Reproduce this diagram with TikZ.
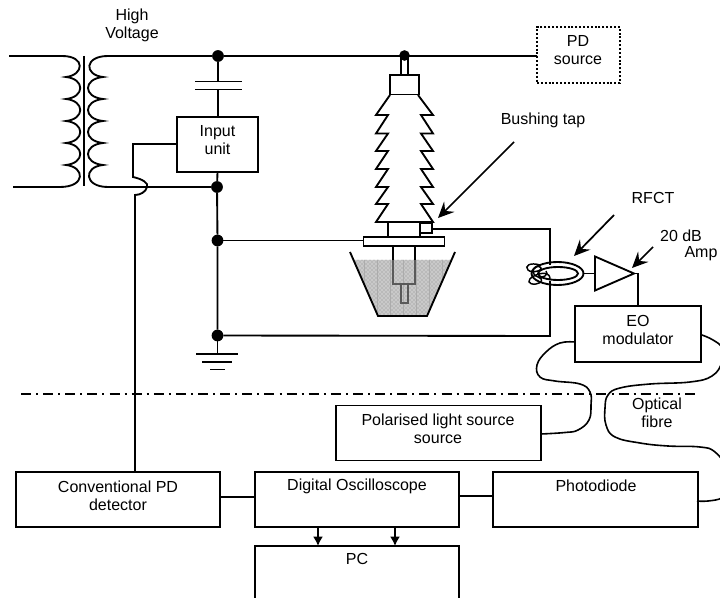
\documentclass[tikz,border=0pt]{standalone}
\usepackage{fontspec}
\setmainfont{Liberation Sans}
\usetikzlibrary{arrows.meta,patterns}
\tikzset{
  wire/.style={line width=1.4pt,line join=miter},
  fibre/.style={line width=1.2pt},
  box/.style 2 args={draw,line width=1.4pt,rectangle,inner sep=0pt,outer sep=0pt,minimum width=#1*0.75pt,minimum height=#2*0.75pt},
  lab/.style={font=\fontsize{12}{13.5}\selectfont,align=center,inner sep=0pt,text=black},
  dot/.style={circle,fill=black,inner sep=0pt,outer sep=0pt,minimum size=8.8pt},
  barb/.style={line width=1.3pt,-{Stealth[length=12pt,width=11pt,inset=4.5pt]}},
}
\begin{document}
\begin{tikzpicture}[x=0.75pt,y=-0.75pt]
\useasboundingbox (0,0) rectangle (720,598);
\clip (0,0) rectangle (720,598);
% boxes
\node[box={81}{55}] (input) at (217.5,144.5) {};
\node[box={83}{56},line width=1.5pt,dash pattern=on 1.5pt off 1.4pt] (pd) at (578.5,55) {};
\node[box={126}{56}] (eo) at (638,334) {};
\node[box={205}{55}] (pol) at (438.5,433) {};
\node[box={204}{55}] (conv) at (118,499.5) {};
\node[box={204}{55}] (dig) at (357,499.5) {};
\node[box={205}{55}] (photo) at (595.5,499.5) {};
\node[box={204}{74}] (pc) at (357,583) {};
% labels
\node[lab] (hv) at (132,25) {High\\Voltage};
\node[lab] (tinput) at (217.5,140) {Input\\unit};
\node[lab] (tpd) at (578,50.5) {PD\\source};
\node[lab] (tbt) at (543,120) {Bushing tap};
\node[lab] (trf) at (653,198) {RFCT};
\node[lab] at (681,236) {20 dB};
\node[lab] at (701,254) {Amp};
\node[lab] (teo) at (638,329.5) {EO\\modulator};
\node[lab] (topt) at (657,412.5) {Optical\\fibre};
\node[lab] (tpol) at (438,429) {Polarised light source\\source};
\node[lab] (tconv) at (118,495.5) {Conventional PD\\detector};
\node[lab] (tdig) at (357,486) {Digital Oscilloscope};
\node[lab] (tphoto) at (596,486) {Photodiode};
\node[lab] (tpc) at (357,559) {PC};
% junction dots
\node[dot] (j1) at (218,56) {};
\node[dot,minimum size=8pt] (j2) at (404.5,55.5) {};
\node[dot] (j3) at (217,187) {};
\node[dot] (j4) at (217.5,240.5) {};
\node[dot] (j5) at (217.5,335.5) {};
% transformer
\coordinate (tl1) at (9,56);
\coordinate (tl2) at (13,187);
\draw[wire] (tl1) -- (62,56) .. controls (86,56) and (84,75) .. (66,77)
  .. controls (85,79) and (85,97) .. (66,99)
  .. controls (85,101) and (85,119) .. (66,121)
  .. controls (85,123) and (85,141) .. (66,143)
  .. controls (85,145) and (85,163) .. (66,165)
  .. controls (85,167) and (86,187) .. (60,187) -- (tl2);
\draw[wire] (83.7,56) -- (83.7,186);
\draw[wire] (pd.west |- j1) -- (j1) -- (108,56) .. controls (84,56) and (84,75) .. (103,77)
  .. controls (83,79) and (83,97) .. (103,99)
  .. controls (83,101) and (83,119) .. (103,121)
  .. controls (83,123) and (83,141) .. (103,143)
  .. controls (83,145) and (83,163) .. (103,165)
  .. controls (83,167) and (84,187) .. (108,187) -- (j3);
% capacitor
\draw[wire] (j1) -- (218,81.5);
\draw[wire] (195,81.5) -- (242,81.5);
\draw[wire] (195,89.5) -- (242,89.5);
\draw[wire] (218,89.5) -- (input.north -| 218,0);
% earth rail
\draw[wire] (input.south) -- (j3);
\draw[wire] (j3) -- (j4) -- (j5);
\coordinate (gnd) at (217.5,354);
\draw[wire] (j5) -- (gnd);
\draw[wire] (196,354) -- (238,354);
\draw[wire] (202,362) -- (232,362);
\draw[wire] (210,369.5) -- (225,369.5);
% detector lead with hop
\draw[wire,fill=none] (input.west |- 0,144) -- (133,144) -- (133,177) .. controls (142,179) and (149,183) .. (147,187) .. controls (146,192) and (140,195) .. (135,195) -- (conv.north -| 135,0);
% oil
\begin{scope}
\clip (353.5,260) -- (378,316) -- (427,316) -- (451.5,260) -- cycle;
\fill[gray!42] (340,255) rectangle (460,320);
\fill[pattern=crosshatch dots,pattern color=black!45] (340,255) rectangle (460,320);
\draw[gray!65,line width=.4pt,step=13] (340,255) grid (470,320);
\end{scope}
\draw[wire] (350,252) -- (378,316) -- (427,316) -- (455,252);
% bushing
\draw[wire] (401,56) -- (401,75);
\draw[wire] (408,56) -- (408,75);
\draw[wire] (390,75) rectangle (419,94.5);
\draw[wire] (390,95) -- (376,115) -- (388,115) -- (376,133.5) -- (388,133.5) -- (376,151) -- (388,151) -- (376,169) -- (388,169) -- (376,187) -- (388,187) -- (376,204) -- (388,204) -- (376,222) -- (433,222)
 -- (421,204) -- (433,204)-- (421,187) -- (433,187) -- (421,169) -- (433,169) -- (421,151) -- (433,151) -- (421,133.5) -- (433,133.5) -- (421,115) -- (433,115) -- (418,95);
\draw[wire] (388,222) -- (388,237);
\node[box={81}{9},fill=white] (plate) at (404,241.5) {};
\node[box={12}{10},line width=1.2pt] (tap) at (426,228) {};
\draw[wire] (420,222) -- (420,237);
\draw[wire] (393,246) -- (393,260);
\draw[wire] (415,246) -- (415,260);
\draw[line width=1.3pt,black!65] (393,260) -- (393,284) -- (415,284) -- (415,260);
\draw[line width=1.3pt,black!65] (401,284) -- (401,303) -- (408,303) -- (408,284);
\draw[wire] (j4) -- (plate.west |- j4);
% return loop
\coordinate (lt) at (550,229);
\coordinate (lb) at (550,336);
\draw[wire] (tap.east |- lt) -- (lt) -- (550,265);
\draw[wire] (550,281) -- (lb) -- (j5);
% RFCT
\draw[wire] (557.5,273.5) circle[x radius=26,y radius=11.5];
\draw[wire] (558,273.5) circle[x radius=20,y radius=6.5];
\draw[line width=1.1pt] (540,265) .. controls (530,262) and (524,266) .. (528,270) .. controls (532,274) and (545,270) .. (540,267) .. controls (534,264) and (530,272) .. (536,276) .. controls (542,280) and (550,274) .. (546,271);
\draw[line width=1.1pt] (550,279) .. controls (550,272) and (542,272) .. (534,276) .. controls (526,280) and (528,285) .. (536,284) .. controls (542,283) and (544,279) .. (538,277);
% amplifier
\coordinate (a1) at (595,256.5);
\coordinate (a2) at (595,290.5);
\coordinate (a3) at (634,273.5);
\draw[wire] (a1) -- (a3) -- (a2) -- cycle;
\draw[wire] (583.5,273.5) -- (595,273.5);
\draw[wire] (a3) -- (638,273.5) -- (eo.north);
% fibres
\coordinate (f1) at (575,342);
\coordinate (f2) at (541,434);
\draw[fibre] plot[smooth,tension=.7] coordinates {(f1) (560,343) (546,352) (537,365) (540,377) (555,381) (580,384) (590,392) (591,405) (589,420) (578,430) (565,432.5) (f2)};
\coordinate (f3) at (702,335);
\coordinate (f4) at (697,501);
\draw[fibre] plot[smooth,tension=.7] coordinates {(f3) (713,340) (722,348) (722,362) (712,376) (690,382) (650,384) (620,388) (608,395) (605,408) (606,425) (615,437) (640,443) (668,446) (700,447) (715,452) (730,470)};
\draw[fibre] plot[smooth,tension=.7] coordinates {(f4) (708,501) (722,498) (732,490)};
% dash-dot
\coordinate (d1) at (21,394);
\coordinate (d2) at (697,394);
\draw[line width=1.2pt,dash pattern=on 7.5pt off 3.8pt on 1.5pt off 3.8pt] (d1) -- (d2);
% lower connectors
\draw[wire] (conv.east |- 0,497) -- (dig.west |- 0,497);
\draw[wire] (dig.east |- 0,496) -- (photo.west |- 0,496);
\draw[wire,-{Latex[length=7pt,width=7.5pt]}] (dig.south -| 318,0) -- (pc.north -| 318,0);
\draw[wire,-{Latex[length=7pt,width=7.5pt]}] (dig.south -| 395,0) -- (pc.north -| 395,0);
% pointer arrows
\coordinate (p1) at (514,142);
\coordinate (p2) at (438,218);
\draw[barb] (p1) -- (p2);
\coordinate (p3) at (614,215);
\coordinate (p4) at (574,256);
\draw[barb] (p3) -- (p4);
\coordinate (p5) at (653,247);
\coordinate (p6) at (632,268);
\draw[barb] (p5) -- (p6);
\end{tikzpicture}
\end{document}
